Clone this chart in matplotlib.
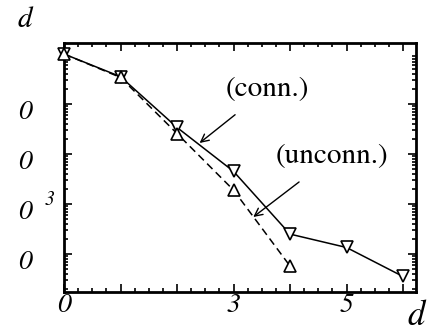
import numpy as np
import matplotlib
matplotlib.use("Agg")
import matplotlib.pyplot as plt
from matplotlib.ticker import FixedLocator, NullFormatter

plt.rcParams['font.family'] = ['STIXGeneral', 'Liberation Serif', 'DejaVu Serif']
plt.rcParams['mathtext.fontset'] = 'stix'

# data
x_conn = [0, 1, 2, 3, 4, 5, 6]
y_conn = [1.0, 0.352, 0.034, 0.0045, 0.00025, 0.000135, 0.0000355]
x_unconn = [0, 1, 2, 3, 4]
y_unconn = [1.0, 0.34, 0.0257, 0.0019, 0.0000575]

x_ticks = [0, 3, 5]
x_ticklabels = ['0', '3', '5']
y_major = [1e-1, 1e-2, 1e-3, 1e-4]
y_ticklabels = ['0', '0', '0', '0']

W, H = 431, 336
fig = plt.figure(figsize=(W / 100, H / 100), dpi=100)
ax = fig.add_axes([64 / W, 1 - 292 / H, (416 - 64) / W, (292 - 43) / H])

ax.plot(x_conn, y_conn, '-', color='black', lw=1.1, marker='v', ms=8.5,
        mfc='white', mec='black', mew=1.2, zorder=3, clip_on=False)
ax.plot(x_unconn, y_unconn, '--', color='black', lw=1.1, dashes=(5, 3), marker='^', ms=8.5,
        mfc='white', mec='black', mew=1.2, zorder=3, clip_on=False)

ax.set_yscale('log')
ax.set_xlim(0, 6.23)
ax.set_ylim(10 ** -4.76, 10 ** 0.22)

ax.xaxis.set_major_locator(FixedLocator(range(0, 7)))
ax.xaxis.set_minor_locator(FixedLocator(np.arange(0, 6.3, 0.25)))
ax.set_xticklabels([])
minor_y = [m * 10.0 ** e for e in range(-5, 1) for m in range(2, 10)]
ax.yaxis.set_major_locator(FixedLocator(y_major))
ax.yaxis.set_minor_locator(FixedLocator(minor_y))
ax.yaxis.set_major_formatter(NullFormatter())
ax.yaxis.set_minor_formatter(NullFormatter())

ax.tick_params(which='both', direction='in', top=True, right=True, width=1.2)
ax.tick_params(which='major', length=6)
ax.tick_params(which='minor', length=3)
for s in ax.spines.values():
    s.set_linewidth(2)

# tick labels (as shown in reference)
for xv, lab in zip(x_ticks, x_ticklabels):
    ax.annotate(lab, xy=(xv, 0), xycoords=('data', 'axes fraction'),
                xytext=(0, -1), textcoords='offset pixels', ha='center', va='top',
                fontsize=20, style='italic')
for yv, lab in zip(y_major, y_ticklabels):
    ax.annotate(lab, xy=(0, yv), xycoords=('axes fraction', 'data'),
                xytext=(-39, -9), textcoords='offset pixels', ha='center', va='center',
                fontsize=20, style='italic')
ax.annotate('3', xy=(0, y_major[2]), xycoords=('axes fraction', 'data'),
            xytext=(-14, 4), textcoords='offset pixels', ha='center', va='center',
            fontsize=14, style='italic')

fig.text(25 / W, 1 - 20 / H, 'd', fontsize=21, style='italic', ha='center', va='center')
fig.text(416 / W, 1 - 316 / H, 'd', fontsize=25, style='italic', ha='center', va='center')

ax.annotate('(conn.)', xy=(2.4, 10 ** -1.78), xytext=(3.6, 10 ** -0.7),
            fontsize=21, ha='center', va='center',
            arrowprops=dict(arrowstyle='->', color='black', lw=1.0,
                            shrinkA=12, shrinkB=0, mutation_scale=14))
ax.annotate('(unconn.)', xy=(3.35, 10 ** -3.26), xytext=(4.75, 10 ** -2.05),
            fontsize=21, ha='center', va='center',
            arrowprops=dict(arrowstyle='->', color='black', lw=1.0,
                            shrinkA=12, shrinkB=0, mutation_scale=14))

fig.savefig('out.png', dpi=100)
